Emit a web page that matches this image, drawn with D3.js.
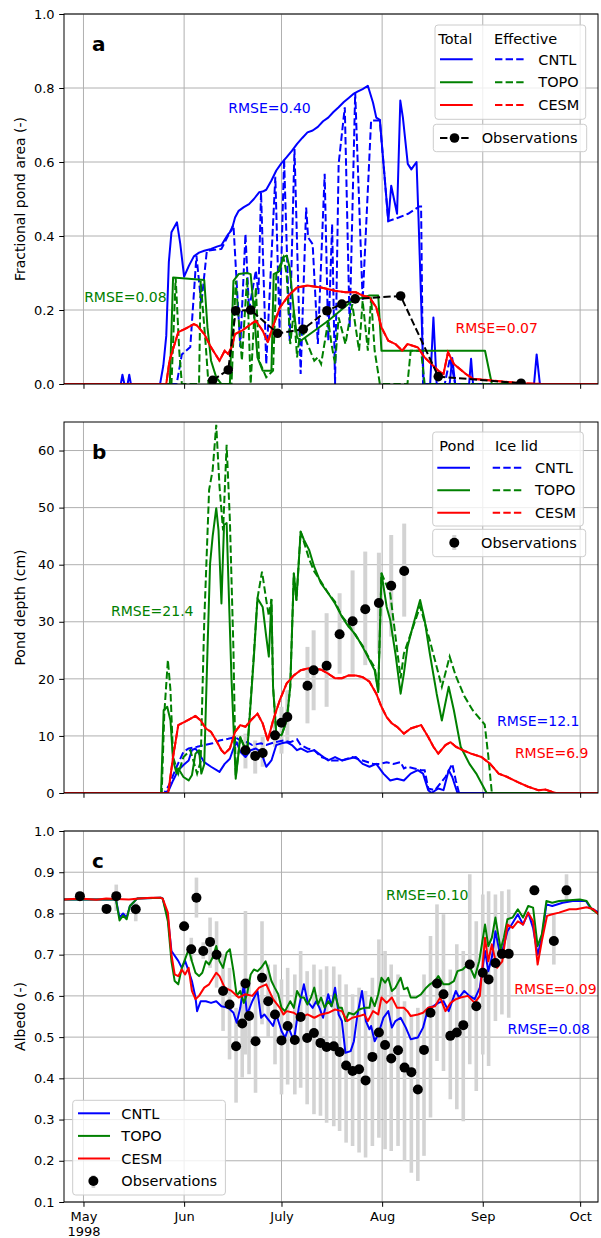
<!DOCTYPE html>
<html><head><meta charset="utf-8">
<script src="https://cdn.jsdelivr.net/npm/d3@7"></script>
<style>body{margin:0;background:#fff} svg{display:block;font-family:"DejaVu Sans",sans-serif}</style>
</head><body><svg id="chart" width="601" height="1238"></svg>
<script>
// ---------- DATA (day of year 1998, value) ----------
const xDomainDoy = [115, 279.5];
const monthStartDoy = [121, 152, 182, 213, 244, 274];
const monthLabels = ["May", "Jun", "July", "Aug", "Sep", "Oct"];
const yearLabel = "1998";
const seriesNames = ["CNTL", "TOPO", "CESM"];
const seriesColors = ["#0000ff", "#008000", "#ff0000"];

const areaTicks = [0, 0.2, 0.4, 0.6, 0.8, 1.0];
const depthTicks = [0, 10, 20, 30, 40, 50, 60];
const albedoTicks = [0.1, 0.2, 0.3, 0.4, 0.5, 0.6, 0.7, 0.8, 0.9, 1.0];

// Panel a: fractional pond area
const areaCntlTotal = [[115,0],[132.5,0],[133,0.025],[133.6,0],[134.6,0],[135.1,0.025],[135.6,0],[144.6,0],[145.6,0.05],[146.5,0.13],[147.3,0.33],[148.1,0.41],[149.8,0.437],[150.8,0.38],[152,0.29],[153.5,0.32],[155,0.345],[156.6,0.355],[158.2,0.36],[160.3,0.365],[162.3,0.372],[163.5,0.375],[164.5,0.39],[165.6,0.405],[166.6,0.415],[167.7,0.45],[168.8,0.468],[170.4,0.478],[172,0.486],[173.5,0.5],[175.1,0.518],[176.2,0.52],[177.3,0.525],[178.9,0.55],[180.4,0.577],[182,0.597],[183.6,0.613],[185.2,0.63],[186.8,0.649],[188.4,0.665],[190,0.68],[191.6,0.685],[193.2,0.695],[194.8,0.71],[196.4,0.72],[198,0.735],[199.6,0.748],[201.2,0.762],[202.7,0.773],[204.3,0.785],[205.4,0.79],[207,0.797],[208.6,0.806],[210.2,0.76],[211.2,0.72],[212.3,0.714],[214.9,0.44],[215.8,0.536],[217.6,0.46],[218.6,0.766],[219.4,0.72],[220.9,0.595],[222,0.58],[223.6,0.6],[224.2,0.45],[225.1,0.2],[225.8,0],[227.8,0],[228.8,0.18],[229.8,0],[233.8,0],[234.6,0.07],[235.5,0],[239.8,0],[240.4,0.068],[241,0],[259.8,0],[260.6,0.08],[261.6,0],[279.5,0]];
const areaCntlEff = [[115,0],[149.7,0],[151.3,0.08],[153.9,0.1],[155.8,0.347],[157.3,0.216],[159,0.36],[163.5,0.365],[167.2,0.43],[169.3,0.1],[170.9,0.405],[172,0.2],[174.1,0.307],[174.9,0.243],[175.7,0.518],[177.3,0.054],[180.1,0.56],[181.4,0.15],[182.8,0.608],[184.5,0.117],[186,0.635],[187.9,0.027],[189.6,0.477],[190.2,0.396],[191.6,0.378],[193.2,0.108],[195.3,0.568],[196.4,0.117],[197.6,0.432],[198.5,0],[199.6,0.595],[201.5,0.748],[203,0.153],[204.7,0.788],[207,0.225],[209.6,0.712],[212.3,0.712],[214.9,0.44],[218.1,0.45],[221,0.46],[224.5,0.48],[225,0.48],[225.6,0],[232.3,0],[233.9,0.07],[235.5,0],[279.5,0]];
const areaTopoTotal = [[115,0],[147.6,0],[148.6,0.288],[158.2,0.281],[159.2,0.153],[160.3,0.063],[161.9,0.018],[163.5,0],[166.1,0],[167.2,0.279],[168.8,0.297],[171.4,0.3],[172.5,0.297],[173.5,0.198],[174.6,0.072],[176.2,0.036],[178.9,0.036],[179.6,0.297],[181.5,0.306],[182.4,0.342],[183.6,0.347],[184.5,0.315],[185.8,0.198],[186.8,0.126],[187.9,0.117],[196.4,0.171],[203.8,0.225],[209.1,0.239],[211.8,0.239],[212.8,0.09],[244.7,0.09],[246.8,0],[279.5,0]];
const areaTopoEff = [[115,0],[148.1,0],[149.4,0.288],[150.5,0.09],[151.3,0],[156.6,0],[157.1,0.279],[158.7,0.1],[159.5,0],[166.6,0],[167.9,0.279],[169.8,0.063],[171.4,0.288],[172.5,0],[174.1,0.261],[175.1,0.063],[177.3,0.018],[179.4,0.036],[180.4,0.297],[182.6,0.342],[183.6,0.297],[184.7,0.108],[185.8,0.198],[186.8,0.072],[187.9,0.153],[190,0.108],[192.1,0.063],[193.2,0.072],[194.2,0.054],[196.4,0.171],[197.4,0.108],[198.5,0.054],[199.6,0.18],[201.7,0.108],[203.8,0.216],[205.9,0.09],[207,0.225],[208.6,0.09],[209.6,0.234],[210.7,0.09],[212.3,0],[220.8,0],[221.8,0.09],[225,0.09],[226.1,0],[279.5,0]];
const areaCesmTotal = [[115,0],[146.5,0],[147.5,0.063],[150.2,0.14],[152.3,0.149],[155,0.162],[156,0.158],[158.2,0.135],[160.3,0.099],[162.9,0.063],[164.5,0.09],[165.6,0.081],[166.6,0.099],[167.7,0.135],[169.8,0.144],[172,0.158],[174.1,0.171],[176.2,0.144],[177.8,0.113],[178.9,0.144],[181.5,0.207],[184.2,0.239],[186.8,0.261],[190,0.266],[194.2,0.261],[198.5,0.252],[201.7,0.248],[204.9,0.248],[207,0.239],[209.1,0.234],[211.2,0.207],[212.8,0.153],[214.9,0.117],[217.1,0.108],[219.2,0.09],[220.8,0.108],[224,0.099],[226.1,0.072],[228.2,0.054],[230.3,0.036],[231.9,0.027],[233.3,0.086],[235.1,0.054],[238.8,0.027],[241,0.014],[247.3,0.009],[255.8,0.002],[262.2,0],[279.5,0]];
const areaCesmEff = areaCesmTotal;
const areaObs = [[160.8,0.01],[165.6,0.038],[167.9,0.198],[172.5,0.2],[180.8,0.137],[188.7,0.148],[196,0.198],[200.6,0.216],[204.7,0.23],[218.7,0.238],[230.3,0.02],[255.8,0.002]];

// Panel b: pond depth (cm)
const depthCntlPond = [[115,0],[146.1,0],[147.3,0.5],[148.6,2.2],[150.2,4.0],[151.8,4.9],[153.4,5.7],[154.4,7.5],[155.5,7.8],[156.6,6.9],[158.2,5.4],[160.3,4.6],[162.9,3.7],[164.5,5.1],[166.1,6.0],[167.2,7.8],[168.2,8.9],[169.3,7.2],[170.9,6.3],[172.5,7.5],[174.1,7.8],[175.7,7.2],[177.3,4.6],[178.9,5.7],[180.4,8.4],[182,8.7],[183.6,8.9],[185.2,8.4],[186.8,7.5],[187.9,7.8],[190,7.2],[192.1,7.5],[194.2,6.6],[196.4,5.7],[198.5,6.3],[200.6,5.7],[202.7,6.0],[204.9,6.3],[207,5.1],[209.1,4.6],[211.2,5.1],[213.4,3.4],[215.5,2.2],[217.6,2.5],[219.7,2.2],[221.8,3.4],[224,4.0],[225.6,3.4],[227.2,0.5],[228.2,0],[230.3,0.8],[231.9,0.5],[233.5,4.0],[234.6,2.8],[236.2,0],[279.5,0]];
const depthCntlLid = [[115,0],[145.9,0],[147.3,1.3],[149.7,4.6],[151.8,7.2],[153.4,7.8],[156,8.1],[158.2,8.4],[160.8,8.7],[162.9,9.2],[165.6,9.5],[167.7,9.8],[169.3,9.2],[171.4,8.9],[173,8.4],[175.7,8.7],[177.3,8.4],[179.9,8.9],[182.6,9.2],[184.7,8.9],[186.8,9.4],[187.9,8.4],[190,7.8],[192.1,7.5],[194.2,6.3],[197.4,5.7],[200.6,5.7],[203.8,6.3],[207,5.7],[210.2,5.1],[212.3,5.1],[214.4,5.4],[216.5,5.1],[218.7,5.4],[219.7,4.3],[220.8,4.6],[222.9,4.3],[225,4.0],[226.1,4.0],[227.2,0.8],[229.3,0.5],[232.5,2.8],[234.6,5.1],[235.7,2.2],[236.7,0],[279.5,0]];
const depthTopoPond = [[115,0],[144.9,0],[145.7,14.5],[146.8,15.1],[147.8,12.7],[148.6,5.7],[149.7,3.4],[150.2,4.3],[151.8,2.8],[153.4,2.2],[154.4,3.1],[155.5,6.9],[156.6,7.5],[157.3,3.4],[158.2,5],[159.2,25],[160,40.2],[160.8,45],[161.9,49.9],[162.6,46],[163.5,33.2],[164.3,47],[165.1,47.3],[165.6,38],[166.6,20],[167.9,2.5],[169.3,9.8],[171.4,6.9],[173.5,23.9],[174.6,34.1],[176.2,32.6],[177.3,27.4],[178.1,23.9],[178.9,33.8],[179.4,18.6],[180.4,10.4],[182,10.1],[183.6,12.7],[184.7,18.6],[185.8,38.5],[186.6,33.8],[187.9,45.8],[188.9,44.4],[190.5,42.6],[192.1,39.6],[194.2,36.7],[196.4,35],[198.5,33.2],[200.6,30.9],[202.7,29.1],[204.9,27.7],[207,25.6],[209.1,23.3],[210.7,21.5],[211.8,17.7],[212.8,38.5],[214.4,32.6],[215.5,30.3],[217.1,24.4],[218.7,17.4],[219.7,20.9],[220.8,25.6],[222.4,29.1],[224.7,33.8],[226.1,30.3],[227.7,24.4],[229.8,17.4],[231.4,12.7],[233.5,18.6],[235.1,14.5],[237.2,8.1],[239.9,5.1],[242,3.4],[245.2,0],[279.5,0]];
const depthTopoLid = [[115,0],[145.1,0],[145.9,13.9],[147,23.3],[147.8,18],[148.6,6.3],[150.2,3.4],[151.8,6.3],[153.9,7.5],[156,3.4],[157.1,5.5],[158.2,30],[159.7,53.1],[160.8,56.6],[161.9,64.5],[162.9,53.7],[164,46],[165.1,61],[166.1,47.8],[167.2,25],[167.9,2.8],[169.3,9.8],[171.4,6.9],[173.5,24.5],[174.6,34.1],[176,38.8],[177.3,33.8],[178.1,31],[178.9,34],[179.4,18.6],[180.4,10.4],[182,10.1],[183.6,12.7],[184.7,18.6],[185.8,38.5],[186.6,33.8],[187.9,45.8],[188.9,44],[190.5,41],[192.1,38.8],[194.2,37],[196.4,35],[198.5,33.5],[200.6,31],[202.7,29.5],[204.9,27.5],[207,25.8],[209.1,23.5],[210.7,22],[211.8,18],[212.8,38.5],[215.5,34.9],[218.7,20.1],[219.7,24.4],[224.7,32.7],[227.7,26.7],[231.4,18.6],[233.8,23.9],[235.7,20.5],[238.3,17],[240.9,14.5],[244.6,12],[245.7,6.5],[246.8,0],[279.5,0]];
const depthCesmPond = [[115,0],[147.1,0],[148.6,6.3],[150.2,11.9],[152.3,12.5],[153.9,13],[155.5,13.5],[157.1,12.7],[158.7,11.3],[160.3,10.7],[161.9,9.2],[163.5,7.5],[164.5,6.9],[166.1,7.8],[167.7,10.7],[169.3,11.9],[170.9,11.6],[172.5,12.7],[174.6,13.9],[176.2,12.2],[177.8,9.2],[179.4,12.7],[181.5,16.3],[183.6,19.2],[185.8,20.6],[187.9,21.5],[190,21.8],[192.1,21.8],[194.2,21.6],[196.4,20.9],[198.5,20.1],[200.6,20.1],[202.7,20.6],[204.9,20.6],[207,20.3],[209.1,19.5],[211.2,17.4],[212.8,15.1],[214.4,13.3],[216,12.2],[217.6,11.6],[219.7,10.4],[221.8,11.3],[225,11.9],[227.2,9.8],[228.8,8.1],[230.3,6.9],[232.5,8.4],[234.1,8.9],[235.7,8.1],[237.8,7.5],[240.4,6.9],[243.6,6.3],[246.3,5.1],[248.9,3.4],[251.6,2.8],[254.8,1.9],[258,1.1],[261.1,0.5],[263.3,0.6],[266.4,0],[279.5,0]];
const depthCesmLid = depthCesmPond;
const depthObsDay = [170.9, 173.9, 176.2, 180, 182, 183.8, 190, 191.9, 195.9, 199.9, 203.9, 207.8, 212, 215.8, 219.8];
const depthObsVal = [7.5, 6.5, 7.0, 10.1, 12.3, 13.3, 18.8, 21.5, 22.3, 27.8, 30.1, 32.2, 33.3, 36.3, 38.9];
const depthObsLo = [4.3, 3.4, 4.6, 8.1, 6.9, 8.7, 12.2, 14.5, 15.1, 20.9, 20.9, 22.4, 24.4, 27.4, 30.9];
const depthObsHi = [10.4, 9.2, 9.8, 12.7, 15.1, 18.0, 25.6, 28.5, 31.5, 35.0, 39.0, 42.3, 42.1, 45.2, 47.2];

// Panel c: albedo
const albedoCntl = [[115,0.834],[131,0.834],[132.1,0.79],[133.2,0.8],[134.3,0.79],[135.3,0.818],[137.5,0.836],[144.9,0.838],[145.4,0.836],[147,0.79],[148.1,0.709],[150.2,0.685],[151.3,0.668],[152.3,0.685],[153.4,0.66],[154.4,0.636],[155.5,0.596],[156,0.563],[157.1,0.587],[158.7,0.587],[160.3,0.583],[161.9,0.587],[163.5,0.575],[165.6,0.571],[167.2,0.559],[168.2,0.535],[169.3,0.571],[170.4,0.628],[171.4,0.555],[173,0.587],[174.6,0.612],[175.7,0.547],[176.7,0.555],[178.3,0.539],[179.4,0.527],[180.4,0.555],[182,0.515],[183.1,0.499],[184.2,0.523],[185.8,0.49],[187.3,0.571],[188.9,0.628],[190,0.587],[191.6,0.571],[192.7,0.587],[193.7,0.571],[194.8,0.547],[196.4,0.604],[197.4,0.575],[198.5,0.62],[199.6,0.555],[200.6,0.539],[201.7,0.462],[203.3,0.466],[204.3,0.49],[205.4,0.555],[206.8,0.612],[208,0.539],[209.1,0.519],[209.6,0.527],[210.7,0.49],[211.8,0.507],[213.4,0.547],[214.9,0.563],[216,0.523],[217.1,0.539],[218.7,0.547],[220.3,0.523],[221.8,0.495],[224,0.499],[225.6,0.523],[227.2,0.571],[228.8,0.575],[230.3,0.583],[231.9,0.587],[233.5,0.563],[235.7,0.612],[236.7,0.596],[238.3,0.612],[239.9,0.6],[241.5,0.592],[243.1,0.62],[244.7,0.709],[245.7,0.66],[246.8,0.693],[247.9,0.757],[249.5,0.693],[251.6,0.757],[253.2,0.777],[254.8,0.798],[256.4,0.773],[258,0.802],[259.5,0.765],[260.9,0.7],[262.2,0.741],[263.6,0.822],[265.4,0.818],[268.6,0.826],[271.7,0.83],[273.9,0.83],[275.8,0.83],[277.1,0.814],[279.7,0.802]];
const albedoTopo = [[115,0.834],[131,0.834],[132.1,0.783],[133.2,0.795],[134.3,0.786],[135.3,0.818],[137.5,0.836],[144.9,0.838],[145.4,0.836],[147,0.781],[148.1,0.684],[149.1,0.636],[150.2,0.628],[151.3,0.668],[152.3,0.689],[153.4,0.713],[154.4,0.684],[155.5,0.656],[156.6,0.648],[157.6,0.656],[158.7,0.684],[159.7,0.676],[160.8,0.693],[161.9,0.721],[162.9,0.684],[164,0.668],[165.1,0.705],[166.1,0.713],[167.2,0.66],[168.2,0.6],[169.3,0.612],[170.4,0.583],[171.4,0.604],[172.5,0.652],[173.5,0.664],[174.6,0.66],[175.7,0.668],[177.1,0.684],[177.8,0.668],[178.9,0.636],[179.9,0.62],[181,0.604],[182,0.571],[183.1,0.563],[184.7,0.587],[185.8,0.571],[186.8,0.612],[187.9,0.596],[188.9,0.596],[190,0.579],[191.1,0.596],[192.1,0.62],[193.2,0.579],[194.2,0.596],[195.3,0.571],[196.4,0.587],[197.4,0.575],[198.5,0.604],[199.6,0.571],[200.6,0.571],[201.7,0.539],[202.7,0.559],[204.3,0.555],[205.9,0.567],[207.5,0.571],[209.1,0.571],[209.6,0.596],[210.7,0.575],[211.8,0.604],[212.8,0.644],[213.9,0.632],[214.9,0.644],[216,0.612],[217.1,0.62],[218.7,0.644],[219.7,0.616],[220.8,0.62],[221.8,0.596],[223.4,0.596],[225,0.604],[226.6,0.62],[227.7,0.628],[229.3,0.636],[230.3,0.648],[231.9,0.628],[233.5,0.628],[235.1,0.636],[236.2,0.66],[237.8,0.664],[239.4,0.676],[240.4,0.664],[241.5,0.644],[242.9,0.684],[244.7,0.773],[245.7,0.721],[246.8,0.741],[247.9,0.79],[249.5,0.713],[250.5,0.741],[251.6,0.786],[253.2,0.79],[254.8,0.81],[256.4,0.79],[258,0.818],[259.5,0.814],[260.9,0.721],[262.2,0.749],[263.6,0.83],[265.4,0.826],[267.5,0.83],[270.7,0.832],[273.9,0.834],[276,0.83],[277.6,0.81],[279.7,0.798]];
const albedoCesm = [[115,0.834],[120,0.836],[125,0.833],[128,0.836],[131,0.835],[135,0.834],[138,0.836],[142,0.838],[144.9,0.838],[145.4,0.836],[147,0.802],[148.1,0.7],[149.1,0.652],[150.2,0.648],[151.3,0.664],[152.3,0.652],[153.4,0.668],[154.4,0.612],[155.5,0.592],[156.6,0.6],[158.2,0.62],[159.7,0.628],[161.9,0.656],[162.9,0.648],[164.5,0.62],[166.6,0.612],[168.8,0.596],[170.9,0.604],[173,0.6],[175.1,0.62],[177.3,0.628],[179.4,0.592],[181.5,0.571],[182.6,0.555],[183.6,0.563],[185.8,0.559],[187.9,0.547],[190,0.555],[192.1,0.547],[194.2,0.555],[196.4,0.559],[198.5,0.567],[200.6,0.563],[202.2,0.539],[203.8,0.547],[205.9,0.551],[207.5,0.555],[208.6,0.539],[210.2,0.563],[211.8,0.555],[212.8,0.596],[214.4,0.583],[216,0.596],[217.6,0.571],[219.7,0.571],[220.8,0.563],[221.8,0.551],[224,0.555],[225.6,0.559],[227.2,0.571],[229.3,0.575],[230.9,0.596],[232.5,0.563],[234.1,0.583],[235.7,0.592],[237.2,0.596],[239.4,0.6],[241.5,0.583],[243.1,0.6],[244.7,0.741],[245.7,0.684],[246.8,0.725],[248.4,0.668],[250,0.684],[251.6,0.773],[253.2,0.765],[254.8,0.781],[256.4,0.773],[258,0.802],[259.5,0.781],[260.9,0.676],[262.2,0.733],[263.8,0.794],[265.4,0.798],[267.5,0.802],[270.7,0.81],[272.8,0.81],[276,0.815],[278.1,0.81],[279.7,0.798]];
const albedoObsDay = [119.9,128.1,131.1,137.1,152,154.2,155.8,157.9,160,162,164,166,168,169.9,170.9,172,174,176,177.9,180,182,183.9,186.1,187.9,189.9,192,194,195.9,198.1,199.9,201.9,203.9,205.9,207.9,210,212,213.9,215.8,217.9,219.9,222,224,225.9,227.9,229.9,231.9,234,236,238,240,242,244,245.8,247.9,249.9,252,259.9,265.9,269.8];
const albedoObsVal = [0.842,0.811,0.842,0.81,0.769,0.713,0.838,0.709,0.731,0.7,0.612,0.579,0.478,0.533,0.63,0.551,0.49,0.644,0.587,0.555,0.492,0.527,0.493,0.549,0.498,0.51,0.486,0.476,0.478,0.464,0.431,0.418,0.422,0.395,0.452,0.511,0.481,0.448,0.468,0.426,0.415,0.373,0.469,0.559,0.63,0.604,0.503,0.511,0.529,0.676,0.575,0.656,0.64,0.68,0.702,0.702,0.856,0.733,0.856];
const albedoObsLo = [0.835,0.811,0.806,0.781,0.769,0.684,0.79,0.69,0.668,0.62,0.515,0.446,0.341,0.402,0.458,0.41,0.365,0.531,0.499,0.434,0.361,0.385,0.361,0.377,0.337,0.313,0.309,0.292,0.284,0.272,0.244,0.236,0.22,0.208,0.236,0.256,0.228,0.224,0.236,0.2,0.171,0.151,0.212,0.305,0.442,0.418,0.349,0.325,0.296,0.434,0.369,0.458,0.43,0.539,0.555,0.547,0.856,0.676,0.826];
const albedoObsHi = [0.85,0.811,0.87,0.826,0.769,0.741,0.887,0.73,0.79,0.781,0.7,0.668,0.571,0.636,0.806,0.644,0.604,0.781,0.676,0.676,0.64,0.668,0.652,0.709,0.66,0.676,0.664,0.672,0.671,0.652,0.628,0.604,0.62,0.612,0.644,0.737,0.709,0.676,0.652,0.587,0.555,0.571,0.652,0.745,0.822,0.798,0.664,0.725,0.709,0.895,0.781,0.846,0.854,0.846,0.854,0.858,0.856,0.798,0.895];

// RMSE annotations: [text, color index, start day, centre value]
const areaRmse = [["RMSE=0.40",0,165.6,0.746],["RMSE=0.08",1,121.2,0.236],["RMSE=0.07",2,235.6,0.151]];
const depthRmse = [["RMSE=21.4",1,129.5,31.9],["RMSE=12.1",0,248.4,12.6],["RMSE=6.9",2,253.9,7.1]];
const albedoRmse = [["RMSE=0.10",1,214.2,0.845],["RMSE=0.09",2,253.7,0.616],["RMSE=0.08",0,251.6,0.519]];

// ---------- DRAWING ----------
const L = 64, R = 598;
const svg = d3.select("#chart");
const doyDate = d => new Date(Date.UTC(1998, 0, 1) + (d - 1) * 864e5);
const x = d3.scaleUtc().domain(xDomainDoy.map(doyDate)).range([L, R]);
const monthDates = monthStartDoy.map(doyDate);
const GRID = "#b0b0b0", LW = 2, DASH = "7.4,3.2";

function panel(cfg) {
  const y = d3.scaleLinear().domain(cfg.yDomain).range([cfg.bottom, cfg.top]);
  const g = svg.append("g");
  const clipId = "clip" + cfg.letter;
  svg.append("clipPath").attr("id", clipId).append("rect")
    .attr("x", L).attr("y", cfg.top).attr("width", R - L).attr("height", cfg.bottom - cfg.top);
  // grid
  g.append("g").selectAll("line").data(monthDates).join("line")
    .attr("x1", d => x(d)).attr("x2", d => x(d)).attr("y1", cfg.top).attr("y2", cfg.bottom)
    .attr("stroke", GRID).attr("stroke-width", 1);
  g.append("g").selectAll("line").data(cfg.ticks).join("line")
    .attr("x1", L).attr("x2", R).attr("y1", d => y(d)).attr("y2", d => y(d))
    .attr("stroke", GRID).attr("stroke-width", 1);
  const plot = g.append("g").attr("clip-path", `url(#${clipId})`);
  const line = d3.line().x(d => x(doyDate(d[0]))).y(d => y(d[1]));
  cfg.draw(plot, y, line);
  // axes
  const ya = g.append("g").attr("transform", `translate(${L},0)`)
    .call(d3.axisLeft(y).tickValues(cfg.ticks).tickFormat(cfg.fmt).tickSize(4.8).tickPadding(4.6));
  const xa = g.append("g").attr("transform", `translate(0,${cfg.bottom})`)
    .call(d3.axisBottom(x).tickValues(monthDates).tickSize(4.8).tickPadding(4.8)
      .tickFormat(cfg.xlabels ? ((d, i) => monthLabels[i]) : () => ""));
  [ya, xa].forEach(a => {
    a.select(".domain").remove();
    a.selectAll(".tick line").attr("stroke", "#000").attr("stroke-width", 1);
    a.selectAll("text").attr("font-size", 13).attr("fill", "#000").attr("font-family", "DejaVu Sans");
  });
  if (cfg.xlabels) {
    xa.selectAll(".tick text").filter((d, i) => i === 0)
      .append("tspan").attr("x", 0).attr("dy", "1.15em").text(yearLabel);
  }
  g.append("rect").attr("x", L).attr("y", cfg.top).attr("width", R - L).attr("height", cfg.bottom - cfg.top)
    .attr("fill", "none").attr("stroke", "#000").attr("stroke-width", 1);
  // y label
  g.append("text").attr("transform", `translate(25,${(cfg.top + cfg.bottom) / 2}) rotate(-90)`)
    .attr("text-anchor", "middle").attr("font-size", 14).text(cfg.ylabel);
  // panel letter
  g.append("text").attr("x", 92).attr("y", cfg.top + 37).attr("font-size", 20).attr("font-weight", "bold").text(cfg.letter);
  // RMSE labels
  g.append("g").selectAll("text").data(cfg.rmse).join("text")
    .attr("x", d => x(doyDate(d[2]))).attr("y", d => y(d[3])).attr("dy", "0.36em")
    .attr("font-size", 14).attr("fill", d => seriesColors[d[1]]).text(d => d[0]);
  return g;
}

function path(sel, data, color, dashed) {
  sel.append("path").datum(data).attr("fill", "none").attr("stroke", color).attr("stroke-width", LW)
    .attr("stroke-linejoin", "round").attr("stroke-dasharray", dashed ? DASH : null)
    .attr("d", d3.line().x(d => x(doyDate(d[0]))).y(d => sel.__y(d[1])));
}

function legendBox(x0, y0, x1, y1) {
  svg.append("rect").attr("x", x0).attr("y", y0).attr("width", x1 - x0).attr("height", y1 - y0)
    .attr("rx", 3).attr("fill", "#fff").attr("fill-opacity", 0.8).attr("stroke", "#cccccc").attr("stroke-width", 1);
}
function legText(tx, ty, s) {
  svg.append("text").attr("x", tx).attr("y", ty).attr("dy", "0.36em").attr("font-size", 14.5).text(s);
}
function legLine(x0, x1, yy, color, dashed) {
  svg.append("line").attr("x1", x0).attr("x2", x1).attr("y1", yy).attr("y2", yy)
    .attr("stroke", color).attr("stroke-width", LW).attr("stroke-dasharray", dashed ? DASH : null);
}

// Panel a
panel({
  letter: "a", top: 14, bottom: 384, yDomain: [0, 1], ticks: areaTicks, fmt: d3.format(".1f"),
  ylabel: "Fractional pond area (-)", rmse: areaRmse, xlabels: false,
  draw: (p, y, line) => {
    const sets = [[areaCntlTotal, areaCntlEff], [areaTopoTotal, areaTopoEff], [areaCesmTotal, areaCesmEff]];
    sets.forEach((s, i) => {
      p.append("path").datum(s[1]).attr("d", line).attr("fill", "none").attr("stroke", seriesColors[i])
        .attr("stroke-width", LW).attr("stroke-dasharray", DASH);
      p.append("path").datum(s[0]).attr("d", line).attr("fill", "none").attr("stroke", seriesColors[i])
        .attr("stroke-width", LW).attr("stroke-linejoin", "round");
    });
    p.append("path").datum(areaObs).attr("d", line).attr("fill", "none").attr("stroke", "#000")
      .attr("stroke-width", LW).attr("stroke-dasharray", DASH);
    p.append("g").selectAll("circle").data(areaObs).join("circle")
      .attr("cx", d => x(doyDate(d[0]))).attr("cy", d => y(d[1])).attr("r", 4.8).attr("fill", "#000");
  }
});
legendBox(435, 25, 585.7, 119.3);
legText(438.3, 38.3, "Total"); legText(494, 38.3, "Effective");
seriesNames.forEach((n, i) => {
  const yy = 59.3 + i * 22.9;
  legLine(440, 472.7, yy, seriesColors[i], false);
  legLine(495, 525.7, yy, seriesColors[i], true);
  legText(538.3, yy, n);
});
legendBox(433.3, 124.3, 586.7, 151.7);
legLine(440, 470, 138, "#000", true);
svg.append("circle").attr("cx", 454.5).attr("cy", 138).attr("r", 4.8).attr("fill", "#000");
legText(481.7, 138, "Observations");

// Panel b
panel({
  letter: "b", top: 422, bottom: 793, yDomain: [0, 65], ticks: depthTicks, fmt: d3.format("d"),
  ylabel: "Pond depth (cm)", rmse: depthRmse, xlabels: false,
  draw: (p, y, line) => {
    p.append("g").selectAll("line").data(depthObsDay).join("line")
      .attr("x1", d => x(doyDate(d))).attr("x2", d => x(doyDate(d)))
      .attr("y1", (d, i) => y(depthObsLo[i])).attr("y2", (d, i) => y(depthObsHi[i]))
      .attr("stroke", "#d3d3d3").attr("stroke-width", 4);
    const sets = [[depthCntlPond, depthCntlLid], [depthTopoPond, depthTopoLid], [depthCesmPond, depthCesmLid]];
    sets.forEach((s, i) => {
      p.append("path").datum(s[1]).attr("d", line).attr("fill", "none").attr("stroke", seriesColors[i])
        .attr("stroke-width", LW).attr("stroke-dasharray", DASH);
      p.append("path").datum(s[0]).attr("d", line).attr("fill", "none").attr("stroke", seriesColors[i])
        .attr("stroke-width", LW).attr("stroke-linejoin", "round");
    });
    p.append("g").selectAll("circle").data(depthObsDay).join("circle")
      .attr("cx", d => x(doyDate(d))).attr("cy", (d, i) => y(depthObsVal[i])).attr("r", 5).attr("fill", "#000");
  }
});
legendBox(432.7, 432, 583.3, 526);
legText(439.3, 445.7, "Pond"); legText(495, 445.7, "Ice lid");
seriesNames.forEach((n, i) => {
  const yy = 467.7 + i * 22.5;
  legLine(437.3, 470, yy, seriesColors[i], false);
  legLine(492.7, 522.7, yy, seriesColors[i], true);
  legText(535, yy, n);
});
legendBox(432.7, 529.3, 585.7, 556.7);
svg.append("line").attr("x1", 454.3).attr("x2", 454.3).attr("y1", 535).attr("y2", 550).attr("stroke", "#d3d3d3").attr("stroke-width", 4);
svg.append("circle").attr("cx", 454.3).attr("cy", 542.7).attr("r", 5).attr("fill", "#000");
legText(481, 542.7, "Observations");

// Panel c
panel({
  letter: "c", top: 831, bottom: 1202, yDomain: [0.1, 1.0], ticks: albedoTicks, fmt: d3.format(".1f"),
  ylabel: "Albedo (-)", rmse: albedoRmse, xlabels: true,
  draw: (p, y, line) => {
    p.append("g").selectAll("line").data(albedoObsDay).join("line")
      .attr("x1", d => x(doyDate(d))).attr("x2", d => x(doyDate(d)))
      .attr("y1", (d, i) => y(albedoObsLo[i])).attr("y2", (d, i) => y(albedoObsHi[i]))
      .attr("stroke", "#d3d3d3").attr("stroke-width", 3.6);
    [albedoCntl, albedoTopo, albedoCesm].forEach((s, i) => {
      p.append("path").datum(s).attr("d", line).attr("fill", "none").attr("stroke", seriesColors[i])
        .attr("stroke-width", LW).attr("stroke-linejoin", "round");
    });
    p.append("g").selectAll("circle").data(albedoObsDay).join("circle")
      .attr("cx", d => x(doyDate(d))).attr("cy", (d, i) => y(albedoObsVal[i])).attr("r", 5).attr("fill", "#000");
  }
});
legendBox(72.7, 1100.3, 225.4, 1195);
seriesNames.forEach((n, i) => {
  const yy = 1113.3 + i * 22.6;
  legLine(78, 110, yy, seriesColors[i], false);
  legText(121.3, yy, n);
});
svg.append("line").attr("x1", 93.4).attr("x2", 93.4).attr("y1", 1175).attr("y2", 1188).attr("stroke", "#d3d3d3").attr("stroke-width", 3.6);
svg.append("circle").attr("cx", 93.4).attr("cy", 1181).attr("r", 5).attr("fill", "#000");
legText(121.3, 1181, "Observations");
</script></body></html>
